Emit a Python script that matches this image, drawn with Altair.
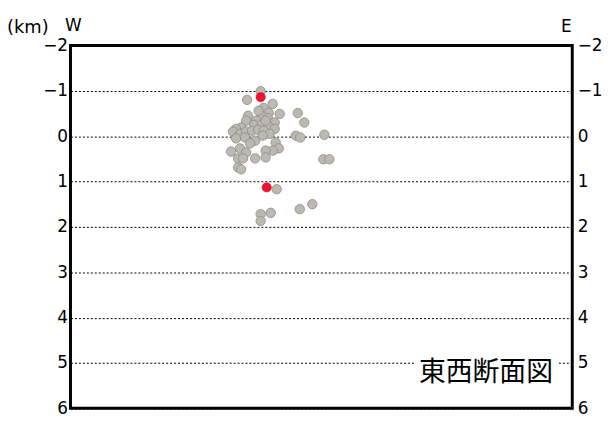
import altair as alt
import pandas as pd

# Earthquake hypocenters (east-west cross-section)
gray_x = [37.9, 35.2, 40.3, 38.5, 39.5, 41.7, 38.1, 39.3, 35.4, 35.0,
          37.0, 40.7, 36.6, 38.1, 39.5, 40.7, 34.0, 33.0, 32.4, 33.8,
          35.0, 36.2, 37.4, 38.5, 39.7, 33.0, 34.8, 36.8, 38.3, 40.9,
          41.5, 40.3, 38.9, 33.8, 35.0, 32.0, 33.4, 34.4, 36.8, 38.9,
          33.4, 34.0, 45.3, 46.6, 44.9, 45.8, 50.6, 50.4, 51.6, 41.1,
          37.9, 37.9, 39.9, 45.7, 48.2, 37.5, 38.9, 35.8]
gray_depth = [-0.99, -0.80, -0.71, -0.62, -0.51, -0.49, -0.45, -0.40, -0.45, -0.34,
              -0.34, -0.30, -0.25, -0.25, -0.21, -0.16, -0.19, -0.16, -0.10, -0.05,
              -0.10, -0.12, -0.14, -0.12, -0.05, 0.05, 0.03, 0.10, -0.01, 0.14,
              0.27, 0.32, 0.32, 0.27, 0.36, 0.34, 0.49, 0.49, 0.49, 0.47,
              0.69, 0.73, -0.51, -0.30, -0.01, 0.03, -0.03, 0.51, 0.51, 1.17,
              1.72, 1.87, 1.69, 1.61, 1.50, -0.56, -0.34, 0.16]
red_x = [37.9, 39.1]
red_depth = [-0.86, 1.13]
depth_ticks = [-2, -1, 0, 1, 2, 3, 4, 5, 6]

gray = pd.DataFrame({"x": gray_x, "depth": gray_depth})
red = pd.DataFrame({"x": red_x, "depth": red_depth})
one = pd.DataFrame({"a": [0]})

FONT = "DejaVu Sans"
xs = alt.Scale(domain=[0, 100], nice=False, zero=False)
ys = alt.Scale(domain=[-2, 6], reverse=True, nice=False, zero=False)

gray_layer = alt.Chart(gray).mark_circle(
    size=90, fill="#bcb8b2", stroke="#8e8b86", strokeWidth=0.8, opacity=1
).encode(
    x=alt.X("x:Q", scale=xs, axis=None),
    y=alt.Y("depth:Q", scale=ys, axis=alt.Axis(
        orient="left", values=depth_ticks, format="d", title=None,
        grid=True, gridDash=[2, 2], gridColor="black", gridWidth=1, gridOpacity=1,
        domain=False, ticks=False, tickSize=0, labelPadding=3,
        labelFontSize=17, labelColor="black", labelFont=FONT)),
)

red_layer = alt.Chart(red).mark_circle(
    size=90, fill="#ec1430", stroke="#d0102a", strokeWidth=0.5, opacity=1
).encode(
    x=alt.X("x:Q", scale=xs, axis=None),
    y=alt.Y("depth:Q", scale=ys, axis=alt.Axis(
        orient="right", values=depth_ticks, format="d", title=None,
        grid=False, domain=False, ticks=False, tickSize=0, labelPadding=5,
        labelFontSize=17, labelColor="black", labelFont=FONT)),
)

km = alt.Chart(one).mark_text(align="left", baseline="middle", fontSize=18,
                              font=FONT, color="black").encode(
    x=alt.value(-64), y=alt.value(-18), text=alt.value("(km)"))
w = alt.Chart(one).mark_text(align="center", baseline="middle", fontSize=17,
                             font=FONT, color="black").encode(
    x=alt.value(3), y=alt.value(-20), text=alt.value("W"))
e = alt.Chart(one).mark_text(align="center", baseline="middle", fontSize=17,
                             font=FONT, color="black").encode(
    x=alt.value(500), y=alt.value(-19), text=alt.value("E"))
box = alt.Chart(one).mark_rect(fill="white").encode(
    x=alt.value(347), x2=alt.value(492), y=alt.value(315), y2=alt.value(346))
label = alt.Chart(one).mark_text(align="center", baseline="middle", fontSize=27,
                                 font="Noto Sans CJK JP", color="black").encode(
    x=alt.value(419), y=alt.value(330), text=alt.value("東西断面図"))

chart = alt.layer(gray_layer, red_layer, box, label, km, w, e).properties(
    width=506, height=366,
    autosize=alt.AutoSizeParams(type="none"),
    padding={"left": 63, "top": 36, "right": 30, "bottom": 8},
).configure_view(stroke="black", strokeWidth=3, fill="white")

chart.save("out.html", embed_options={"renderer": "svg", "actions": False})
